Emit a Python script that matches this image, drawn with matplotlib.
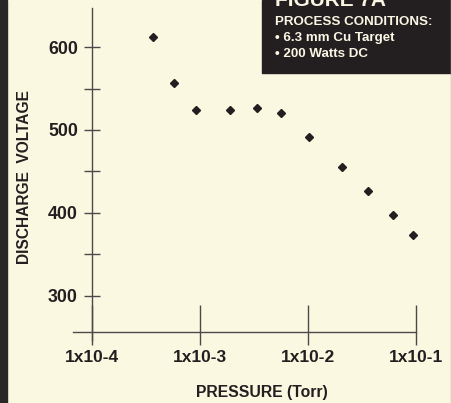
import matplotlib
matplotlib.use("Agg")
import matplotlib.pyplot as plt
from matplotlib.patches import Rectangle
from matplotlib.lines import Line2D
from matplotlib.ticker import NullLocator

# ---- data ----
pressure = [3.7e-4, 5.7e-4, 9.2e-4, 1.9e-3, 3.4e-3, 5.6e-3, 1.03e-2, 2.07e-2, 3.6e-2, 6.1e-2, 9.4e-2]
voltage = [612, 557, 524, 524, 526, 521, 491, 455, 426, 397, 374]
x_ticks = [1e-4, 1e-3, 1e-2, 1e-1]
x_tick_labels = ["1x10-4", "1x10-3", "1x10-2", "1x10-1"]
y_ticks = [300, 400, 500, 600]
y_minor = [350, 450, 550]
box_title = "FIGURE 7A"
box_lines = ["PROCESS CONDITIONS:", "\u2022 6.3 mm Cu Target", "\u2022 200 Watts DC"]
x_label = "PRESSURE (Torr)"
y_label = "DISCHARGE  VOLTAGE"

bg = "#FBF8E1"
dark = "#231F20"
axc = "#4a4a4a"
FONT = "Liberation Sans"

W, H = 452, 403
fig = plt.figure(figsize=(W / 100, H / 100), dpi=100, facecolor=bg)

def fx(px):
    return px / W

def fy(py):
    return (H - py) / H

ax = fig.add_axes([fx(92), fy(332), fx(416) - fx(92), fy(8) - fy(332)])
ax.set_facecolor("none")
for s in ax.spines.values():
    s.set_visible(False)
ax.set_xscale("log")
ylo, yhi = 256.6, 647.0
ax.set_xlim(1e-4, 1e-1)
ax.set_ylim(ylo, yhi)

# axis lines
ax.plot([1e-4, 1e-4], [247, yhi], color=axc, lw=1.0, clip_on=False)
ax.plot([10 ** -4.176, 1e-1], [ylo, ylo], color=axc, lw=1.0, clip_on=False)

# x ticks
ax.vlines(x_ticks, ylo - 15.7, ylo + 32.5, color=axc, lw=1.0, clip_on=False)
ax.set_xticks(x_ticks)
ax.set_xticklabels(x_tick_labels, fontfamily=FONT, fontweight="bold", fontsize=12.5, color=dark)
ax.xaxis.set_minor_locator(NullLocator())
ax.tick_params(axis="x", which="both", length=0, pad=13)

# y ticks
ax.set_yticks(y_ticks)
ax.set_yticks(y_minor, minor=True)
ax.set_yticklabels([str(v) for v in y_ticks], fontfamily=FONT, fontweight="bold", fontsize=12.8, color=dark)
ax.tick_params(axis="y", which="both", direction="inout", length=12.2, width=1.0, color=axc, pad=4.0)

# data
ax.plot(pressure, voltage, "D", ms=4.2, color=dark, ls="none", clip_on=False, zorder=5)

# labels
fig.text(fx(262), fy(392), x_label, ha="center", va="center", fontfamily=FONT,
         fontweight="bold", fontsize=11.3, color=dark)
fig.text(fx(25), fy(177), y_label, ha="center", va="center", rotation=90, fontfamily=FONT,
         fontweight="bold", fontsize=11.2, color=dark)

# decorations
fig.patches.append(Rectangle((0, 0), fx(7), 1, transform=fig.transFigure, color="#2a2727", zorder=1))
fig.lines.append(Line2D([fx(451.5), fx(451.5)], [0, 1], transform=fig.transFigure, color="#a9a79a", lw=1))
fig.patches.append(Rectangle((fx(262), fy(73)), fx(452) - fx(262), 73 / H, transform=fig.transFigure,
                             color=dark, zorder=1))
fig.text(fx(275), fy(6), box_title, ha="left", va="baseline", fontfamily=FONT, fontweight="bold",
         fontsize=15, color="#FAF6E4", zorder=3)
for i, t in enumerate(box_lines):
    fig.text(fx(275), fy(22 + 16 * i), t, ha="left", va="center", fontfamily=FONT, fontweight="bold",
             fontsize=9.6, color="#FAF6E4", zorder=3)

fig.savefig("out.png", dpi=100, facecolor=bg)
